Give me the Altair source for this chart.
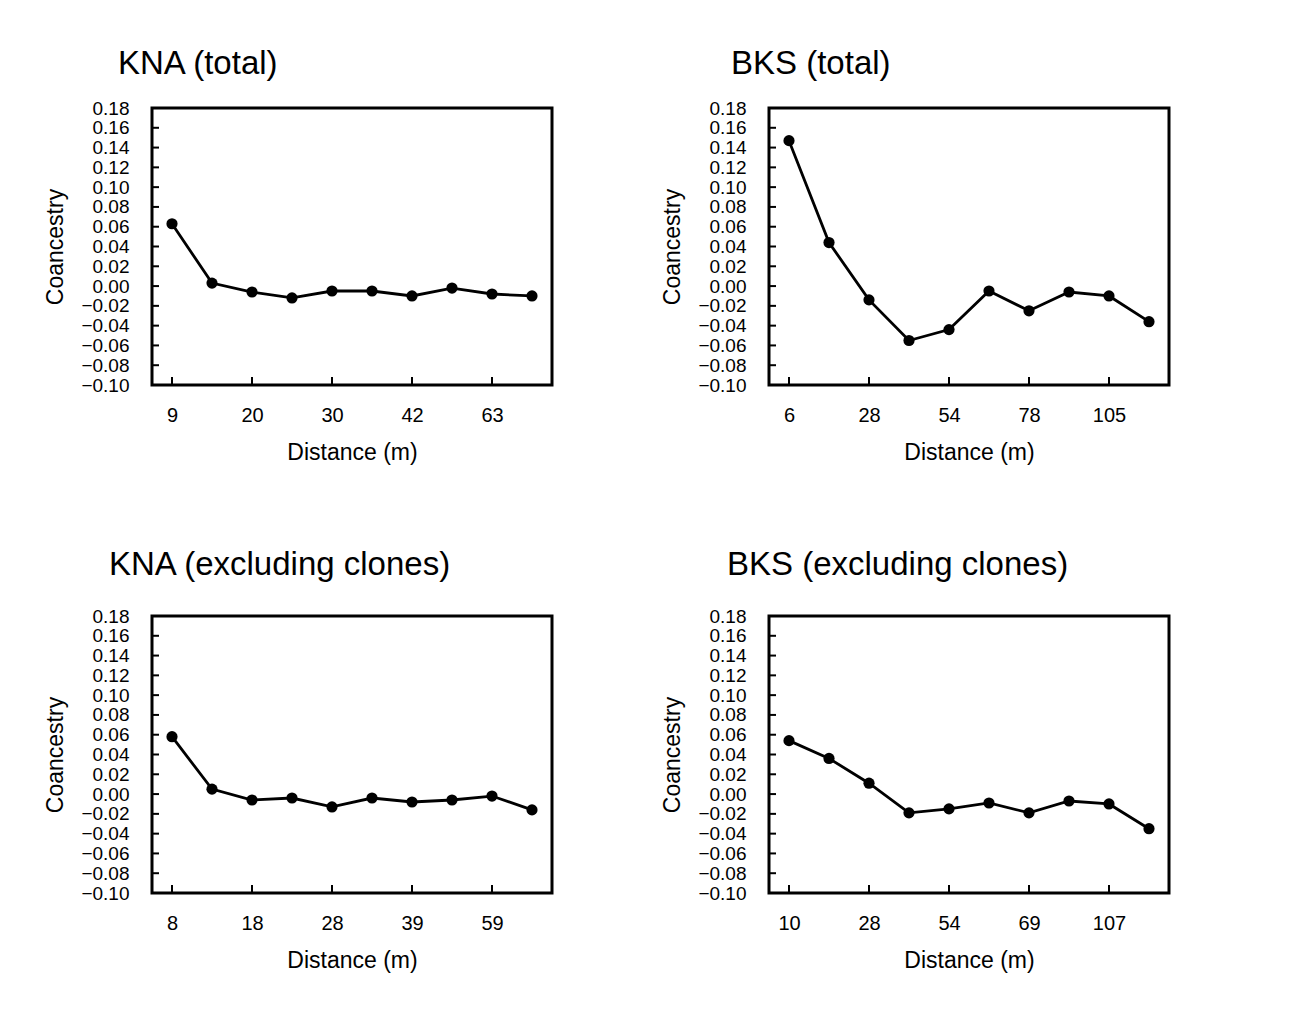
import json
import altair as alt
import pandas as pd

# ---- data ----
panel_titles = ["KNA (total)", "BKS (total)", "KNA (excluding clones)", "BKS (excluding clones)"]

kna_total = [0.063, 0.003, -0.006, -0.012, -0.005, -0.005, -0.010, -0.002, -0.008, -0.010]
bks_total = [0.147, 0.044, -0.014, -0.055, -0.044, -0.005, -0.025, -0.006, -0.010, -0.036]
kna_excl = [0.058, 0.005, -0.006, -0.004, -0.013, -0.004, -0.008, -0.006, -0.002, -0.016]
bks_excl = [0.054, 0.036, 0.011, -0.019, -0.015, -0.009, -0.019, -0.007, -0.010, -0.035]

kna_total_labels = ["9", "20", "30", "42", "63"]
bks_total_labels = ["6", "28", "54", "78", "105"]
kna_excl_labels = ["8", "18", "28", "39", "59"]
bks_excl_labels = ["10", "28", "54", "69", "107"]

distance_classes = [0, 1, 2, 3, 4, 5, 6, 7, 8, 9]
label_positions = [0, 2, 4, 6, 8]
y_tick_values = [-0.10, -0.08, -0.06, -0.04, -0.02, 0.00, 0.02, 0.04, 0.06,
                 0.08, 0.10, 0.12, 0.14, 0.16, 0.18]
y_inner_ticks = [-0.08, -0.06, -0.04, -0.02, 0.00, 0.02, 0.04, 0.06,
                 0.08, 0.10, 0.12, 0.14, 0.16]

title_dx = [-34, -38, -43, -42]
title_offset = [18, 18, 25, 25]

W, H = 400, 277
FONT = "Liberation Sans"


def panel(title, values, labels, dx, off):
    df = pd.DataFrame({"idx": distance_classes, "c": values})
    label_expr = json.dumps(labels) + "[round(datum.value / 2)]"
    x_axis = alt.Axis(values=label_positions, labelExpr=label_expr,
                      title="Distance (m)", ticks=False, domain=False, grid=False,
                      labelPadding=20, titlePadding=16, labelFontSize=20,
                      titleFontSize=23, titleFontWeight="normal",
                      labelFont=FONT, titleFont=FONT, labelColor="black",
                      titleColor="black", labelOverlap=False)
    y_axis = alt.Axis(values=y_tick_values, format=".2f", title="Coancestry",
                      ticks=False, domain=False, grid=False, labelPadding=23,
                      titlePadding=13, labelFontSize=19, titleFontSize=23,
                      titleFontWeight="normal", labelFont=FONT, titleFont=FONT,
                      labelColor="black", titleColor="black", labelFlush=False,
                      labelOverlap=False, labelBaseline="middle")
    x_scale = alt.Scale(domain=[-0.5, 9.5], nice=False, zero=False)
    y_scale = alt.Scale(domain=[-0.10, 0.18], nice=False, zero=False)
    x_enc = alt.X("idx:Q", scale=x_scale, axis=x_axis)
    y_enc = alt.Y("c:Q", scale=y_scale, axis=y_axis)

    base = alt.Chart(df)
    line = base.mark_line(color="black", strokeWidth=2.8).encode(x=x_enc, y=y_enc)
    pts = base.mark_circle(color="black", size=125, opacity=1).encode(x=x_enc, y=y_enc)
    yt = alt.Chart(pd.DataFrame({"c": y_inner_ticks})).mark_rule(
        color="black", strokeWidth=2).encode(y=y_enc, x=alt.value(0), x2=alt.value(7))
    xt = alt.Chart(pd.DataFrame({"idx": label_positions})).mark_rule(
        color="black", strokeWidth=2).encode(x=x_enc, y=alt.value(H), y2=alt.value(H - 8))
    return alt.layer(line, pts, yt, xt).properties(
        width=W, height=H,
        title=alt.TitleParams(title, anchor="start", frame="group", dx=dx,
                              fontSize=33, fontWeight="normal", font=FONT,
                              color="black", offset=off),
    )


panels = [
    panel(panel_titles[i], vals, labs, title_dx[i], title_offset[i])
    for i, (vals, labs) in enumerate([
        (kna_total, kna_total_labels),
        (bks_total, bks_total_labels),
        (kna_excl, kna_excl_labels),
        (bks_excl, bks_excl_labels),
    ])
]

chart = alt.concat(
    *panels, columns=2, bounds="flush",
    spacing={"row": 231, "column": 217},
).properties(
    padding={"left": 35, "top": 38, "right": 5, "bottom": 5},
    background="white",
).configure_view(
    stroke="black", strokeWidth=3, fill="white"
)

chart.save("out.html", embed_options={"renderer": "svg", "actions": False})
